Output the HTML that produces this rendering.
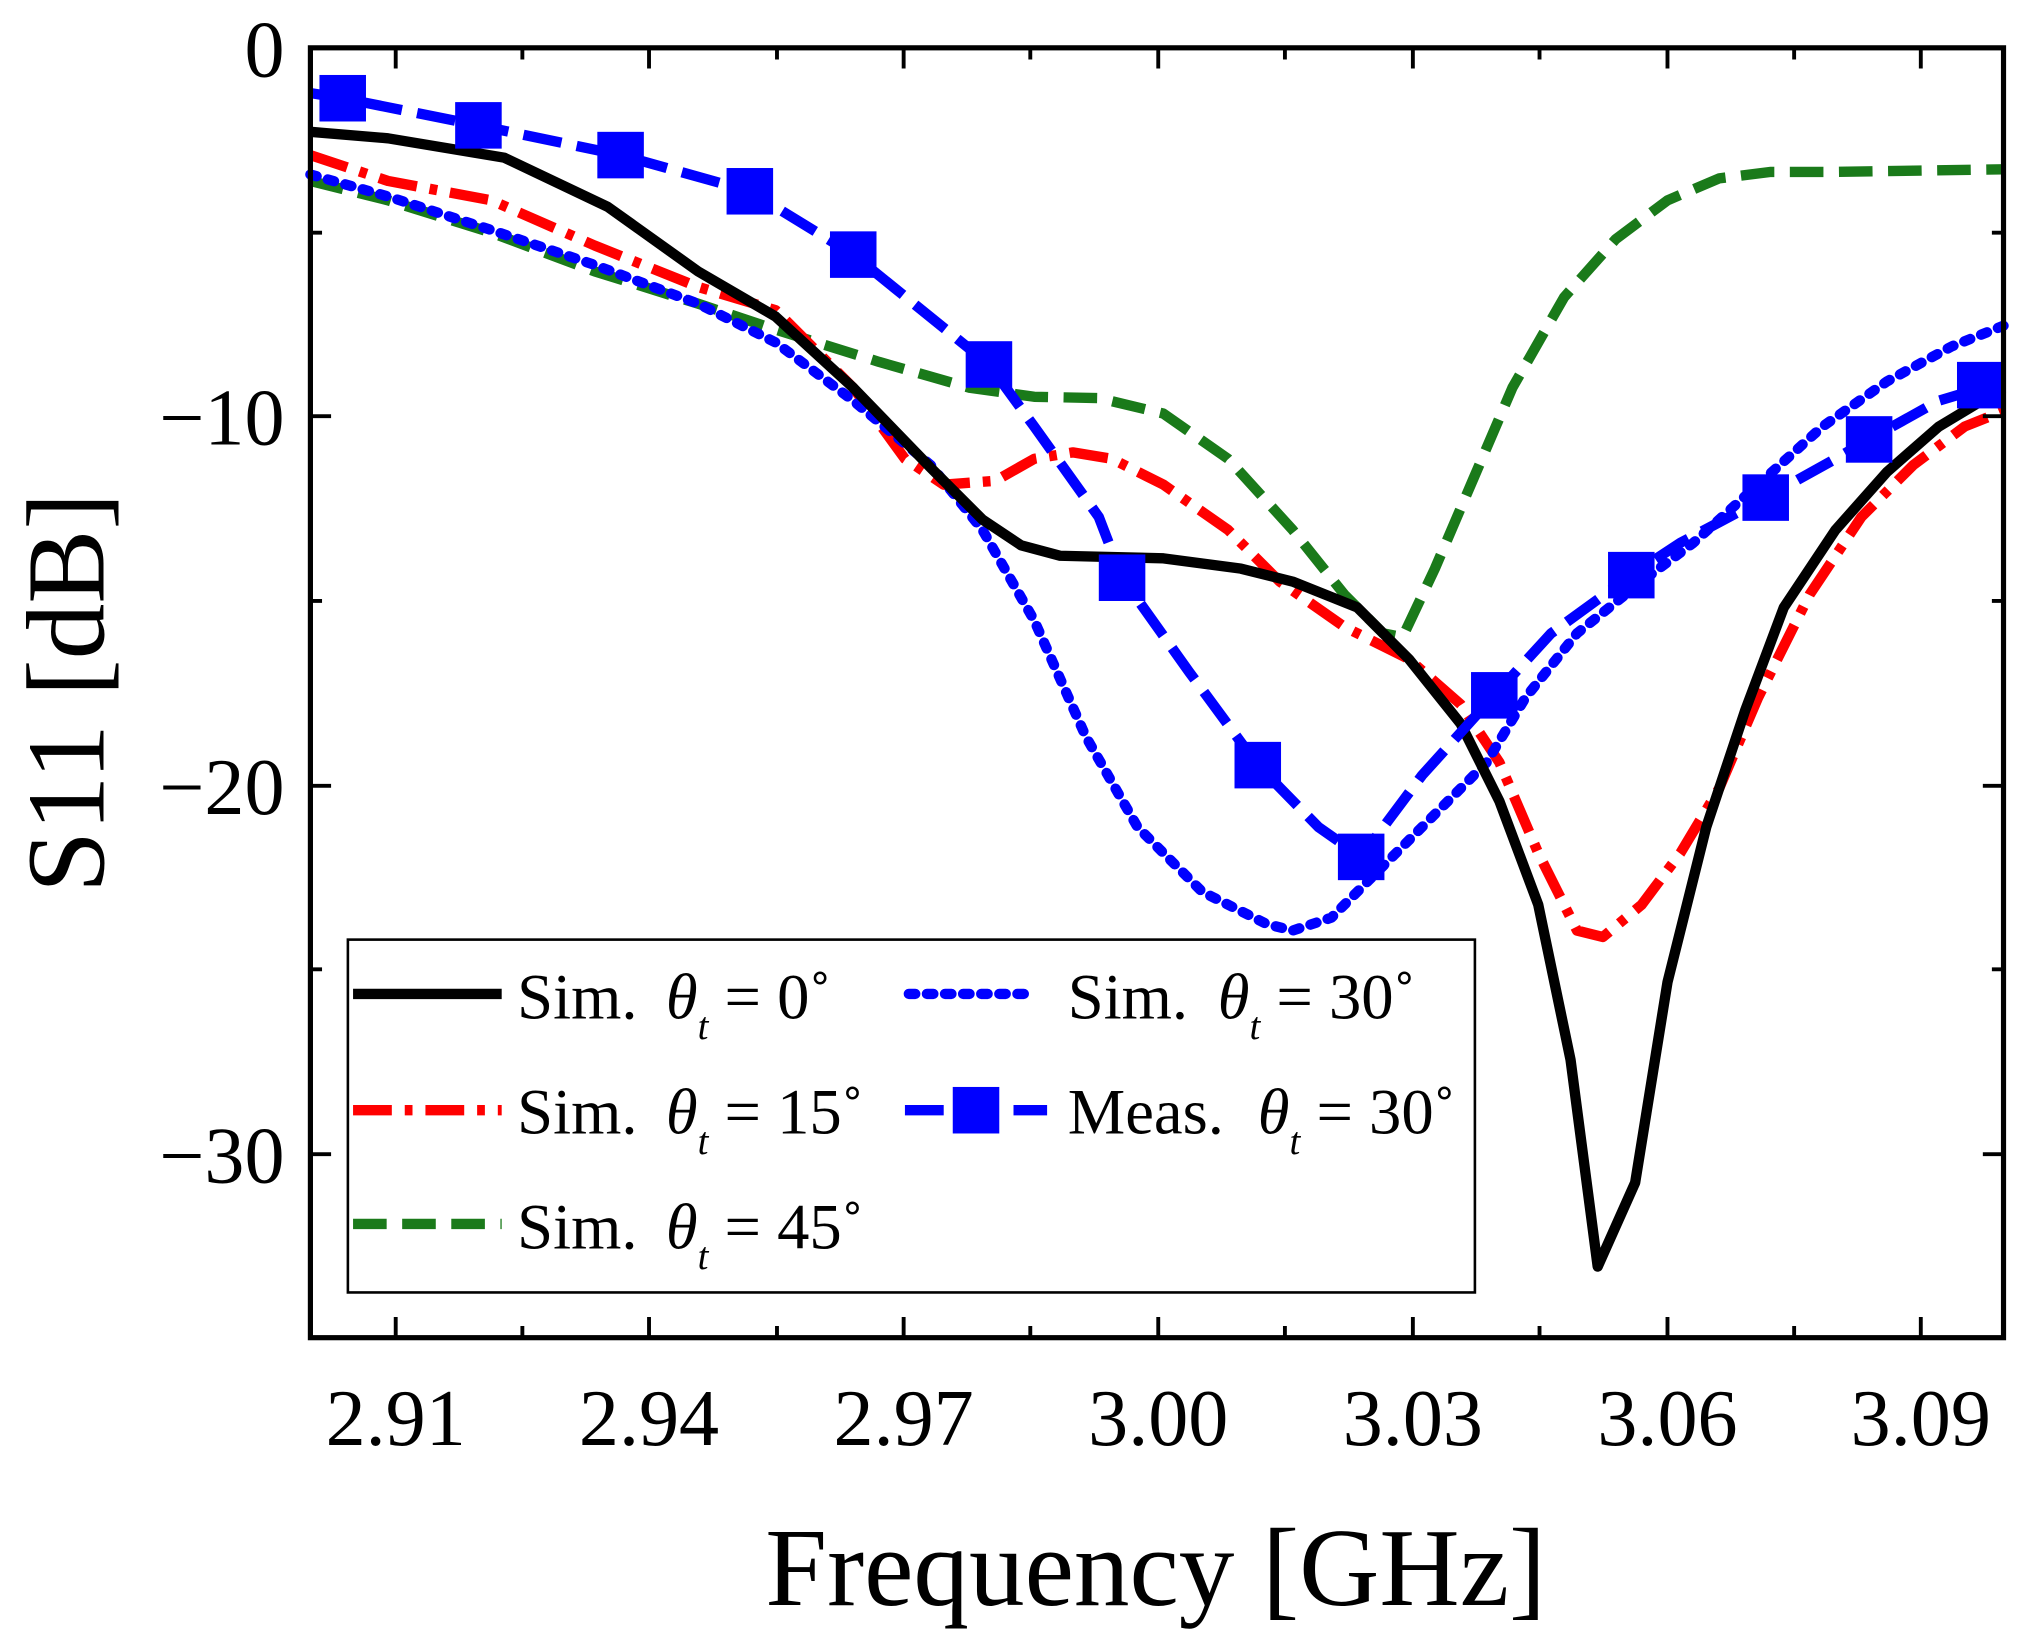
<!DOCTYPE html>
<html><head><style>html,body{margin:0;padding:0;background:#fff}</style></head>
<body>
<svg width="2027" height="1644" viewBox="0 0 1568 1272" xmlns="http://www.w3.org/2000/svg" font-family="Liberation Serif, serif">
<rect width="1568" height="1272" fill="#fff"/>
<g fill="none" stroke-linejoin="round">
<polyline stroke="#1a7a1a" stroke-width="8" stroke-dasharray="26,12" points="240,140 300,155 380,180 460,210 540,235 600,255 680,280 750,300 800,307 850,308 900,320 950,355 1000,410 1040,460 1070,490 1085,493 1110,440 1140,370 1170,300 1210,230 1250,185 1290,155 1330,138 1370,133 1420,133 1550,131"/>
<polyline stroke="#ff0000" stroke-width="8" stroke-dasharray="30,10,6,10" points="240,120 300,140 380,155 460,190 540,222 600,240 660,300 700,355 730,375 770,372 800,355 830,350 860,355 900,375 950,410 990,450 1040,485 1090,510 1130,545 1160,590 1190,660 1220,720 1240,725 1270,700 1300,660 1330,610 1360,540 1400,460 1440,400 1480,360 1520,330 1550,318"/>
<polyline stroke="#0000ff" stroke-width="8" stroke-dasharray="5,9" stroke-linecap="round" points="240,135 300,152 380,178 460,205 540,235 600,265 660,310 720,360 760,410 800,480 840,570 880,640 930,690 980,715 1000,720 1030,710 1070,670 1110,630 1150,590 1180,540 1220,490 1270,450 1310,420 1360,375 1410,330 1460,295 1510,268 1550,252"/>
<polyline stroke="#000" stroke-width="8" points="240,102 300,107 390,122 470,160 540,210 600,245 660,300 720,362 760,402 790,422 820,430 900,432 960,440 1000,450 1050,470 1090,510 1130,560 1160,620 1190,700 1215,820 1236,980 1265,915 1290,760 1320,640 1350,550 1380,470 1420,410 1460,365 1500,330 1550,300"/>
<polyline stroke="#0000ff" stroke-width="8" stroke-dasharray="30,12" points="240,72 265,76 370,97 480,120 580,148 660,197 765,282 800,330 850,400 868,447 920,520 973,592 1020,640 1053,663 1100,600 1156,538 1200,490 1262,445 1300,420 1366,385 1420,355 1446,340 1500,310 1550,295"/>
</g>
<g fill="#0000ff">
<rect x="247" y="58" width="36" height="36"/><rect x="352" y="79" width="36" height="36"/><rect x="462" y="102" width="36" height="36"/><rect x="562" y="130" width="36" height="36"/><rect x="642" y="179" width="36" height="36"/><rect x="747" y="264" width="36" height="36"/><rect x="850" y="429" width="36" height="36"/><rect x="955" y="574" width="36" height="36"/><rect x="1035" y="645" width="36" height="36"/><rect x="1138" y="520" width="36" height="36"/><rect x="1244" y="427" width="36" height="36"/><rect x="1348" y="367" width="36" height="36"/><rect x="1428" y="322" width="36" height="36"/><rect x="1514" y="280" width="36" height="36"/>
</g>
<rect x="240" y="37" width="1310" height="998" fill="none" stroke="#000" stroke-width="4"/>
<g stroke="#000" stroke-width="3">
<path d="M306,1035v-16M502,1035v-16M699,1035v-16M896,1035v-16M1093,1035v-16M1290,1035v-16M1486,1035v-16
M404,1035v-9M601,1035v-9M797,1035v-9M994,1035v-9M1191,1035v-9M1388,1035v-9
M306,37v16M502,37v16M699,37v16M896,37v16M1093,37v16M1290,37v16M1486,37v16
M404,37v9M601,37v9M797,37v9M994,37v9M1191,37v9M1388,37v9"/>
<path d="M240,322h16M240,608h16M240,893h16M240,180h9M240,465h9M240,750h9
M1550,322h-16M1550,608h-16M1550,893h-16M1550,180h-9M1550,465h-9M1550,750h-9"/>
</g>
<g font-size="62" fill="#000">
<g text-anchor="middle">
<text x="306" y="1118">2.91</text><text x="502" y="1118">2.94</text><text x="699" y="1118">2.97</text><text x="896" y="1118">3.00</text><text x="1093" y="1118">3.03</text><text x="1290" y="1118">3.06</text><text x="1486" y="1118">3.09</text>
</g>
<g text-anchor="end">
<text x="220" y="59">0</text><text x="220" y="344">−10</text><text x="220" y="630">−20</text><text x="220" y="915">−30</text>
</g>
</g>
<text x="894" y="1242" font-size="86" text-anchor="middle">Frequency [GHz]</text>
<text transform="translate(80,536) rotate(-90)" font-size="86" text-anchor="middle">S11 [dB]</text>
<rect x="269" y="727" width="872" height="273" fill="#fff" stroke="#000" stroke-width="2"/>
<g fill="none" stroke-width="8">
<line x1="273" y1="769" x2="388" y2="769" stroke="#000"/>
<line x1="273" y1="859" x2="388" y2="859" stroke="#ff0000" stroke-dasharray="30,10,6,10"/>
<line x1="273" y1="947" x2="388" y2="947" stroke="#1a7a1a" stroke-dasharray="26,12"/>
<line x1="703" y1="769" x2="800" y2="769" stroke="#0000ff" stroke-dasharray="5,9" stroke-linecap="round"/>
<line x1="700" y1="859" x2="810" y2="859" stroke="#0000ff" stroke-dasharray="30,12"/>
</g>
<rect x="737" y="841" width="36" height="36" fill="#0000ff"/>
<g font-size="50" fill="#000">
<text x="400" y="788">Sim.<tspan x="515" font-style="italic">θ</tspan><tspan font-style="italic" font-size="30" dy="16">t</tspan><tspan dy="-16"> = 0˚</tspan></text>
<text x="400" y="877">Sim.<tspan x="515" font-style="italic">θ</tspan><tspan font-style="italic" font-size="30" dy="16">t</tspan><tspan dy="-16"> = 15˚</tspan></text>
<text x="400" y="966">Sim.<tspan x="515" font-style="italic">θ</tspan><tspan font-style="italic" font-size="30" dy="16">t</tspan><tspan dy="-16"> = 45˚</tspan></text>
<text x="826" y="788">Sim.<tspan x="942" font-style="italic">θ</tspan><tspan font-style="italic" font-size="30" dy="16">t</tspan><tspan dy="-16"> = 30˚</tspan></text>
<text x="826" y="877">Meas.<tspan x="973" font-style="italic">θ</tspan><tspan font-style="italic" font-size="30" dy="16">t</tspan><tspan dy="-16"> = 30˚</tspan></text>
</g>
</svg>
</body></html>
